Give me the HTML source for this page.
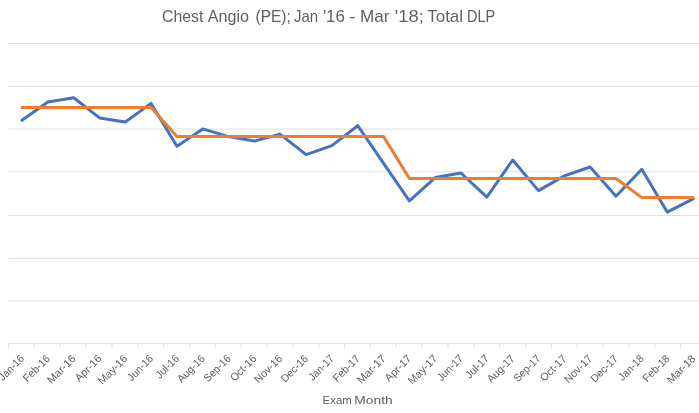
<!DOCTYPE html>
<html><head><meta charset="utf-8"><title>Chest Angio (PE)</title>
<style>html,body{margin:0;padding:0;background:#fff;}svg{display:block;font-family:"Liberation Sans",sans-serif;}</style></head><body>
<svg width="699" height="413" viewBox="0 0 699 413">
<rect width="699" height="413" fill="#fff"/>
<g stroke="#dfdfdf" stroke-width="1" fill="none">
<line x1="8.5" y1="43.5" x2="699" y2="43.5"/>
<line x1="8.5" y1="86.5" x2="699" y2="86.5"/>
<line x1="8.5" y1="129.05" x2="699" y2="129.05"/>
<line x1="8.5" y1="171.85" x2="699" y2="171.85"/>
<line x1="8.5" y1="215.5" x2="699" y2="215.5"/>
<line x1="8.5" y1="258.3" x2="699" y2="258.3"/>
<line x1="8.5" y1="301.0" x2="699" y2="301.0"/>
<line x1="8.5" y1="343.5" x2="699" y2="343.5"/>
<line x1="8.50" y1="343.5" x2="8.50" y2="348.0"/>
<line x1="34.35" y1="343.5" x2="34.35" y2="348.0"/>
<line x1="60.20" y1="343.5" x2="60.20" y2="348.0"/>
<line x1="86.05" y1="343.5" x2="86.05" y2="348.0"/>
<line x1="111.90" y1="343.5" x2="111.90" y2="348.0"/>
<line x1="137.75" y1="343.5" x2="137.75" y2="348.0"/>
<line x1="163.60" y1="343.5" x2="163.60" y2="348.0"/>
<line x1="189.45" y1="343.5" x2="189.45" y2="348.0"/>
<line x1="215.30" y1="343.5" x2="215.30" y2="348.0"/>
<line x1="241.15" y1="343.5" x2="241.15" y2="348.0"/>
<line x1="267.00" y1="343.5" x2="267.00" y2="348.0"/>
<line x1="292.85" y1="343.5" x2="292.85" y2="348.0"/>
<line x1="318.70" y1="343.5" x2="318.70" y2="348.0"/>
<line x1="344.55" y1="343.5" x2="344.55" y2="348.0"/>
<line x1="370.40" y1="343.5" x2="370.40" y2="348.0"/>
<line x1="396.25" y1="343.5" x2="396.25" y2="348.0"/>
<line x1="422.10" y1="343.5" x2="422.10" y2="348.0"/>
<line x1="447.95" y1="343.5" x2="447.95" y2="348.0"/>
<line x1="473.80" y1="343.5" x2="473.80" y2="348.0"/>
<line x1="499.65" y1="343.5" x2="499.65" y2="348.0"/>
<line x1="525.50" y1="343.5" x2="525.50" y2="348.0"/>
<line x1="551.35" y1="343.5" x2="551.35" y2="348.0"/>
<line x1="577.20" y1="343.5" x2="577.20" y2="348.0"/>
<line x1="603.05" y1="343.5" x2="603.05" y2="348.0"/>
<line x1="628.90" y1="343.5" x2="628.90" y2="348.0"/>
<line x1="654.75" y1="343.5" x2="654.75" y2="348.0"/>
<line x1="680.60" y1="343.5" x2="680.60" y2="348.0"/>
</g>
<polyline points="22.0,120.3 47.8,102.1 73.7,97.8 99.5,117.9 125.3,122.0 151.1,103.4 176.9,146.3 202.8,128.9 228.6,136.6 254.4,141.1 279.9,134.1 306.1,154.6 331.9,145.6 357.7,125.7 383.6,163.4 409.4,200.9 435.2,177.6 461.0,173.0 486.8,197.1 512.7,160.0 538.5,190.6 564.3,175.9 590.1,167.0 616.0,196.2 641.8,169.3 667.2,212.1 693.1,198.8" fill="none" stroke="#4472c4" stroke-width="3" stroke-linecap="round" stroke-linejoin="round"/>
<polyline points="22.0,107.4 47.8,107.4 73.7,107.4 99.5,107.4 125.3,107.4 151.1,107.4 176.9,136.6 202.8,136.6 228.6,136.6 254.4,136.6 279.9,136.6 306.1,136.6 331.9,136.6 357.7,136.6 383.6,136.6 409.4,178.5 435.2,178.5 461.0,178.5 486.8,178.5 512.7,178.5 538.5,178.5 564.3,178.5 590.1,178.5 616.0,178.5 641.8,197.6 667.2,197.6 693.1,197.6" fill="none" stroke="#ed7d31" stroke-width="3" stroke-linecap="round" stroke-linejoin="round"/>
<g fill="#606060" font-size="10.8" text-anchor="end">
<text transform="translate(24.8,359.3) rotate(-45)" textLength="31.08" lengthAdjust="spacingAndGlyphs">Jan-16</text>
<text transform="translate(50.6,359.3) rotate(-45)" textLength="32.95" lengthAdjust="spacingAndGlyphs">Feb-16</text>
<text transform="translate(76.4,359.3) rotate(-45)" textLength="35.31" lengthAdjust="spacingAndGlyphs">Mar-16</text>
<text transform="translate(102.3,359.3) rotate(-45)" textLength="32.60" lengthAdjust="spacingAndGlyphs">Apr-16</text>
<text transform="translate(128.1,359.3) rotate(-45)" textLength="36.53" lengthAdjust="spacingAndGlyphs">May-16</text>
<text transform="translate(153.9,359.3) rotate(-45)" textLength="31.63" lengthAdjust="spacingAndGlyphs">Jun-16</text>
<text transform="translate(179.7,359.3) rotate(-45)" textLength="28.15" lengthAdjust="spacingAndGlyphs">Jul-16</text>
<text transform="translate(205.6,359.3) rotate(-45)" textLength="34.04" lengthAdjust="spacingAndGlyphs">Aug-16</text>
<text transform="translate(231.4,359.3) rotate(-45)" textLength="32.95" lengthAdjust="spacingAndGlyphs">Sep-16</text>
<text transform="translate(257.2,359.3) rotate(-45)" textLength="32.22" lengthAdjust="spacingAndGlyphs">Oct-16</text>
<text transform="translate(283.0,359.3) rotate(-45)" textLength="34.63" lengthAdjust="spacingAndGlyphs">Nov-16</text>
<text transform="translate(308.9,359.3) rotate(-45)" textLength="33.58" lengthAdjust="spacingAndGlyphs">Dec-16</text>
<text transform="translate(334.7,359.3) rotate(-45)" textLength="31.08" lengthAdjust="spacingAndGlyphs">Jan-17</text>
<text transform="translate(360.5,359.3) rotate(-45)" textLength="32.95" lengthAdjust="spacingAndGlyphs">Feb-17</text>
<text transform="translate(386.3,359.3) rotate(-45)" textLength="35.31" lengthAdjust="spacingAndGlyphs">Mar-17</text>
<text transform="translate(412.1,359.3) rotate(-45)" textLength="32.60" lengthAdjust="spacingAndGlyphs">Apr-17</text>
<text transform="translate(438.0,359.3) rotate(-45)" textLength="36.53" lengthAdjust="spacingAndGlyphs">May-17</text>
<text transform="translate(463.8,359.3) rotate(-45)" textLength="31.63" lengthAdjust="spacingAndGlyphs">Jun-17</text>
<text transform="translate(489.6,359.3) rotate(-45)" textLength="28.15" lengthAdjust="spacingAndGlyphs">Jul-17</text>
<text transform="translate(515.4,359.3) rotate(-45)" textLength="34.04" lengthAdjust="spacingAndGlyphs">Aug-17</text>
<text transform="translate(541.3,359.3) rotate(-45)" textLength="32.95" lengthAdjust="spacingAndGlyphs">Sep-17</text>
<text transform="translate(567.1,359.3) rotate(-45)" textLength="32.22" lengthAdjust="spacingAndGlyphs">Oct-17</text>
<text transform="translate(592.9,359.3) rotate(-45)" textLength="34.63" lengthAdjust="spacingAndGlyphs">Nov-17</text>
<text transform="translate(618.7,359.3) rotate(-45)" textLength="33.58" lengthAdjust="spacingAndGlyphs">Dec-17</text>
<text transform="translate(644.6,359.3) rotate(-45)" textLength="31.08" lengthAdjust="spacingAndGlyphs">Jan-18</text>
<text transform="translate(670.4,359.3) rotate(-45)" textLength="32.95" lengthAdjust="spacingAndGlyphs">Feb-18</text>
<text transform="translate(696.2,359.3) rotate(-45)" textLength="35.31" lengthAdjust="spacingAndGlyphs">Mar-18</text>
</g>
<text y="21.5" fill="#606060" font-size="15.9"><tspan x="162.04" textLength="41.26" lengthAdjust="spacingAndGlyphs">Chest</tspan> <tspan x="207.79" textLength="41.16" lengthAdjust="spacingAndGlyphs">Angio</tspan> <tspan x="255.54" textLength="35.27" lengthAdjust="spacingAndGlyphs">(PE);</tspan> <tspan x="293.95" textLength="24.11" lengthAdjust="spacingAndGlyphs">Jan</tspan> <tspan x="322.90" textLength="22.09" lengthAdjust="spacingAndGlyphs">'16</tspan> <tspan x="349.27" textLength="6.27" lengthAdjust="spacingAndGlyphs">-</tspan> <tspan x="360.12" textLength="29.43" lengthAdjust="spacingAndGlyphs">Mar</tspan> <tspan x="394.69" textLength="29.05" lengthAdjust="spacingAndGlyphs">'18;</tspan> <tspan x="427.25" textLength="35.81" lengthAdjust="spacingAndGlyphs">Total</tspan> <tspan x="467.01" textLength="28.16" lengthAdjust="spacingAndGlyphs">DLP</tspan></text>
<text y="404.0" fill="#606060" font-size="11.5"><tspan x="322.57" textLength="29.19" lengthAdjust="spacingAndGlyphs">Exam</tspan> <tspan x="354.39" textLength="38.35" lengthAdjust="spacingAndGlyphs">Month</tspan></text>
</svg></body></html>
